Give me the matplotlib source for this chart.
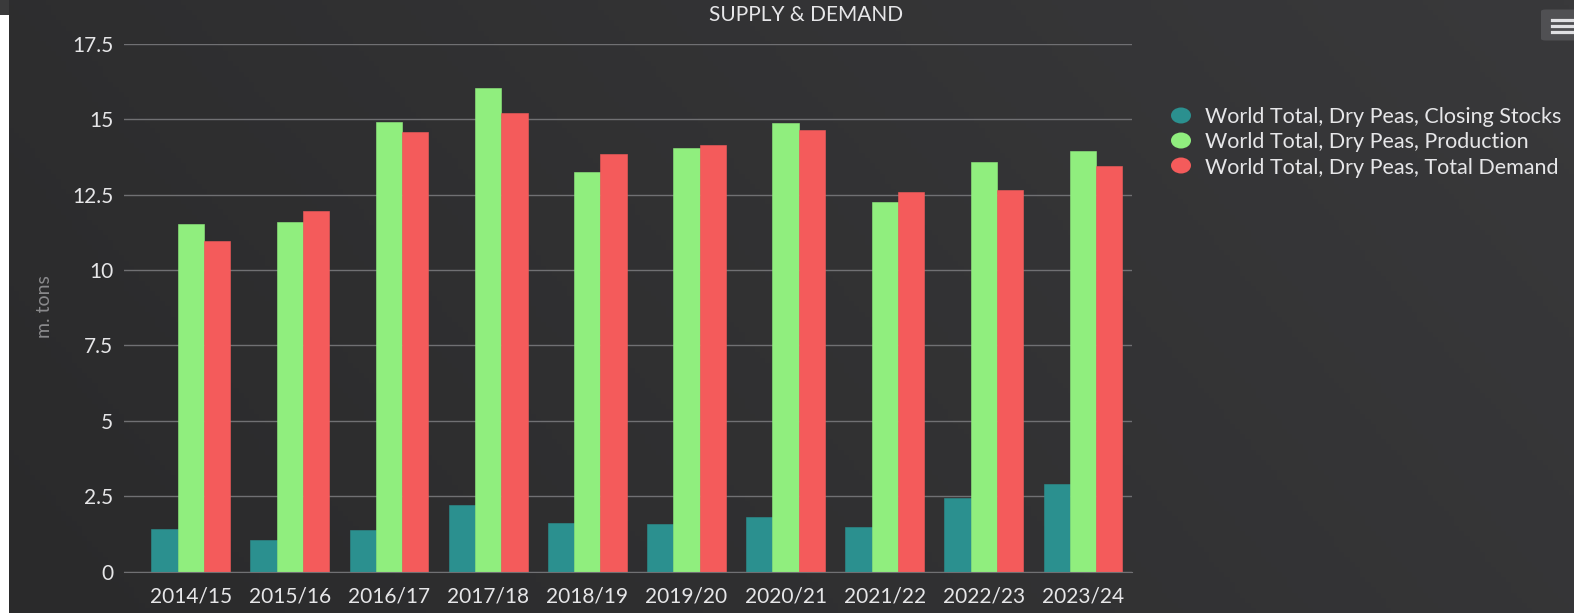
import matplotlib.pyplot as plt
import numpy as np
from matplotlib.colors import LinearSegmentedColormap
from matplotlib.patches import Ellipse, FancyBboxPatch, Rectangle

# marketing years and world dry pea balance (million tons)
seasons = ['2014/15', '2015/16', '2016/17', '2017/18', '2018/19',
           '2019/20', '2020/21', '2021/22', '2022/23', '2023/24']
closing_stocks = [1.41, 1.04, 1.38, 2.22, 1.60, 1.57, 1.80, 1.49, 2.45, 2.91]
production = [11.52, 11.59, 14.90, 16.05, 13.27, 14.06, 14.87, 12.27, 13.58, 13.95]
total_demand = [10.95, 11.97, 14.57, 15.21, 13.84, 14.14, 14.64, 12.58, 12.66, 13.46]

series_names = ['World Total, Dry Peas, Closing Stocks',
                'World Total, Dry Peas, Production',
                'World Total, Dry Peas, Total Demand']
series_colors = ['#2b908f', '#90ee7e', '#f45b5b']
y_ticks = [0, 2.5, 5, 7.5, 10, 12.5, 15, 17.5]
y_tick_labels = ['0', '2.5', '5', '7.5', '10', '12.5', '15', '17.5']

plt.rcParams['font.family'] = ['Lato', 'DejaVu Sans']
text_color = '#e6e6e8'

W, H = 1574, 613
fig = plt.figure(figsize=(W / 100, H / 100), dpi=100)
fig.patch.set_facecolor('white')


def fx(px):
    return px / W


def fy(py):
    return 1 - py / H


# diagonal dark gradient behind everything
bg = fig.add_axes([fx(9), 0, 1 - fx(9), 1], zorder=-10)
gx, gy = np.meshgrid(np.linspace(0, 1, 300), np.linspace(0, 1, 120))
grad = gx * 0.75 + (1 - gy) * 0.25
bg.imshow(grad, cmap=LinearSegmentedColormap.from_list('bg', ['#2a2a2b', '#39393b']),
          aspect='auto', extent=[0, 1, 0, 1])
bg.set_axis_off()
fig.add_artist(Rectangle((0, fy(15)), fx(9), 15 / H, transform=fig.transFigure,
                         facecolor='#3a3a3b', edgecolor='none'))

ax = fig.add_axes([fx(123.5), fy(571.5), fx(1132 - 123.5), (571.5 - 44) / H])
ax.set_facecolor('none')

x = np.arange(len(seasons))
bw = 0.265
for i, (vals, name, col) in enumerate(zip([closing_stocks, production, total_demand],
                                          series_names, series_colors)):
    ax.bar(x + (i - 1) * bw, vals, width=bw, color=col, label=name, zorder=3,
           edgecolor=col, linewidth=0.4)

ax.set_ylim(0, 17.5)
ax.set_xlim(-0.678, 9.494)
ax.set_yticks(y_ticks)
ax.set_yticklabels(y_tick_labels)
ax.set_xticks(x)
ax.set_xticklabels(seasons)
ax.grid(axis='y', color='#707073', linewidth=1, zorder=0)
ax.tick_params(axis='both', length=0, colors=text_color, labelsize=15)
ax.tick_params(axis='y', pad=7.5)
ax.tick_params(axis='x', pad=10.5)
for s in ['top', 'right', 'left']:
    ax.spines[s].set_visible(False)
ax.spines['bottom'].set_color('#707073')
ax.spines['bottom'].set_zorder(4)

# axis title and chart title
fig.text(fx(44), fy(307), 'm. tons', color='#8a8a8c', fontsize=14, rotation=90,
         ha='center', va='center')
fig.text(fx(806), fy(15), 'SUPPLY & DEMAND', color=text_color, fontsize=15,
         ha='center', va='center')

# legend on the right, running off the edge
for i, (name, col) in enumerate(zip(series_names, series_colors)):
    row_y = 115.5 + 25 * i
    fig.add_artist(Ellipse((fx(1181), fy(row_y)), fx(20), 16 / H,
                           transform=fig.transFigure, facecolor=col, edgecolor='none'))
    fig.text(fx(1205), fy(row_y), name, color=text_color, fontsize=15.5,
             ha='left', va='center_baseline')

# context menu button
fig.add_artist(FancyBboxPatch((fx(1541), fy(40.5)), fx(45), 31 / H,
                              boxstyle='round,pad=0,rounding_size=0.003',
                              transform=fig.transFigure, facecolor='#505053',
                              edgecolor='none'))
for yy in [19.5, 25.5, 31.5]:
    fig.add_artist(plt.Line2D([fx(1552), fx(1574)], [fy(yy), fy(yy)],
                              transform=fig.transFigure, color='#e0e0e3', linewidth=2.3))

fig.savefig('out.png', dpi=100)
